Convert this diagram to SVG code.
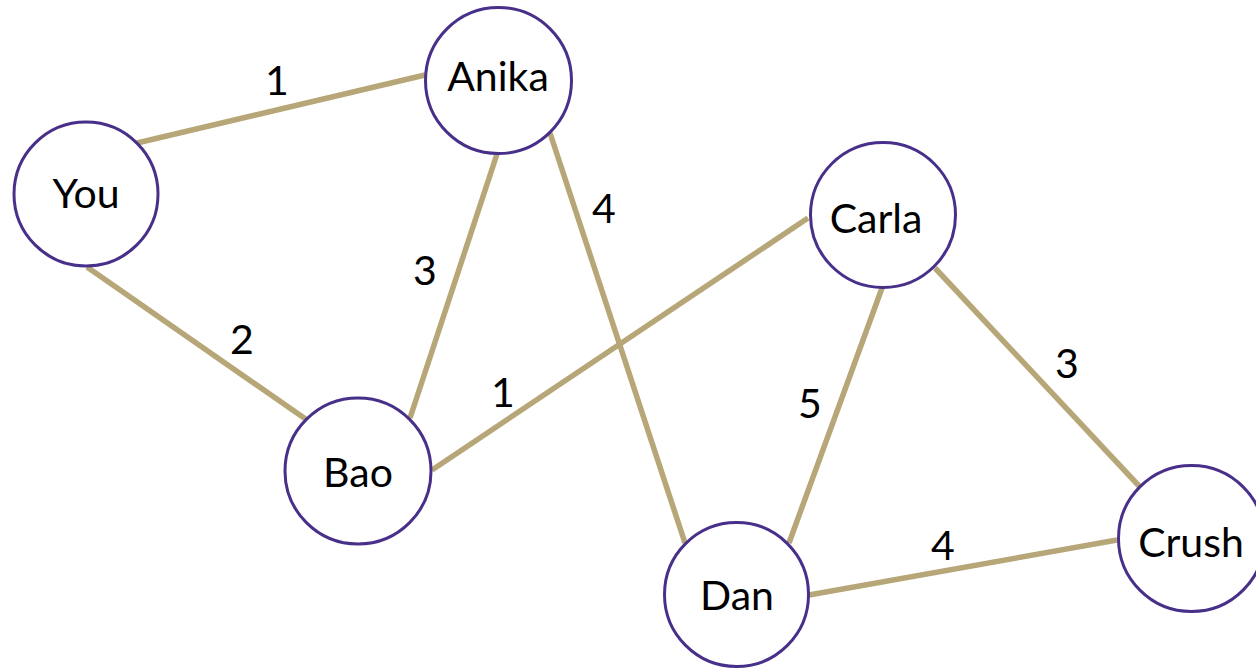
<svg xmlns="http://www.w3.org/2000/svg" width="1256" height="669" viewBox="0 0 1256 669">
  <style>
    .edge { stroke: #b7a677; stroke-width: 5.5; stroke-linecap: butt; fill: none; }
    .node circle { fill: #ffffff; stroke: #48308a; stroke-width: 3; }
    text { font-family: Lato, "Open Sans", "Liberation Sans", sans-serif; font-size: 41px; fill: #000000; text-anchor: middle; }
  </style>
  <rect width="1256" height="669" fill="#ffffff"/>

  <!-- weighted connections -->
  <g id="edges">
    <line class="edge" x1="137" y1="143" x2="425" y2="75"/>
    <line class="edge" x1="87" y1="267" x2="307" y2="420"/>
    <line class="edge" x1="497" y1="154" x2="410" y2="418"/>
    <line class="edge" x1="550" y1="133" x2="685" y2="543"/>
    <line class="edge" x1="432" y1="470" x2="808" y2="218"/>
    <line class="edge" x1="882" y1="288" x2="789" y2="543"/>
    <line class="edge" x1="935" y1="268" x2="1140" y2="487"/>
    <line class="edge" x1="809" y1="595" x2="1117" y2="540"/>
  </g>

  <!-- edge weights -->
  <g id="weights">
    <text x="277" y="95">1</text>
    <text x="242" y="354">2</text>
    <text x="425" y="285">3</text>
    <text x="604" y="223">4</text>
    <text x="503" y="407">1</text>
    <text x="810" y="418">5</text>
    <text x="1067" y="378">3</text>
    <text x="943" y="560">4</text>
  </g>

  <!-- people -->
  <g id="you" class="node">
    <circle cx="86" cy="194" r="72"/>
    <text x="86" y="208">You</text>
  </g>
  <g id="anika" class="node">
    <circle cx="498.5" cy="80.5" r="73"/>
    <text x="498" y="91">Anika</text>
  </g>
  <g id="carla" class="node">
    <circle cx="883" cy="215" r="72.5"/>
    <text x="876" y="233">Carla</text>
  </g>
  <g id="bao" class="node">
    <circle cx="358" cy="471" r="73"/>
    <text x="358" y="487">Bao</text>
  </g>
  <g id="dan" class="node">
    <circle cx="736.5" cy="594.5" r="72"/>
    <text x="737" y="610">Dan</text>
  </g>
  <g id="crush" class="node">
    <circle cx="1191.5" cy="538.5" r="73"/>
    <text x="1191" y="557">Crush</text>
  </g>
</svg>
